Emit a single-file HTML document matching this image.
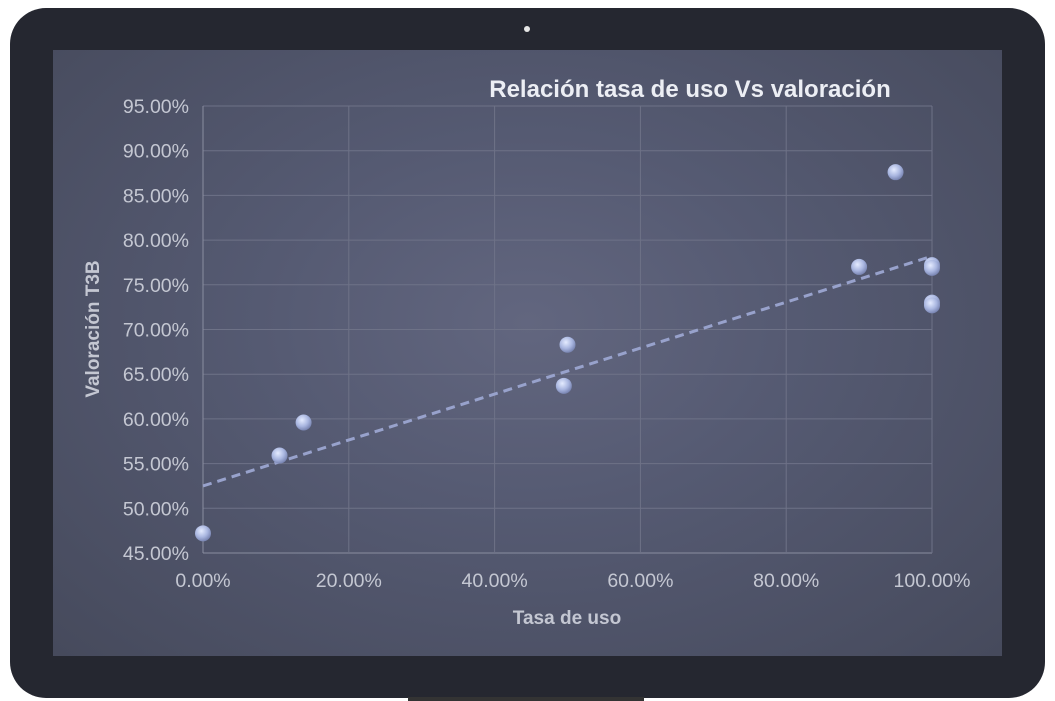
<!DOCTYPE html>
<html><head><meta charset="utf-8"><style>
html,body{margin:0;padding:0;background:#fff;width:1055px;height:701px;overflow:hidden}
#frame{position:absolute;left:10px;top:8px;width:1035px;height:690px;background:#252730;border-radius:36px}
#screen{position:absolute;left:53px;top:50px;width:949px;height:606px;background:radial-gradient(ellipse at 50% 45%,#62667f 0%,#555a72 40%,#464a5c 100%)}
#cam{position:absolute;left:524px;top:26px;width:6px;height:6px;border-radius:50%;background:#e6e6e6}
#bar{position:absolute;left:408px;top:697px;width:236px;height:4px;background:#333}
svg text{font-family:"Liberation Sans",sans-serif}
</style></head><body>
<div id="frame"></div>
<div id="cam"></div>
<div id="screen"></div>
<div id="bar"></div>
<svg id="chart" width="1055" height="701" style="position:absolute;left:0;top:0">
<defs><radialGradient id="ball" cx="40%" cy="35%" r="65%"><stop offset="0" stop-color="#e4ebff"/><stop offset="0.6" stop-color="#a9b6e0"/><stop offset="1" stop-color="#7a86b3"/></radialGradient></defs>
<g id="grid"></g><g id="trend"></g><g id="pts"></g><g id="labels"></g>
<text x="690" y="97" text-anchor="middle" font-size="24" font-weight="bold" fill="#eceef4">Relación tasa de uso Vs valoración</text>
<text x="567" y="624" text-anchor="middle" font-size="19" font-weight="bold" fill="#c4c7d2">Tasa de uso</text>
<text transform="translate(99,329) rotate(-90)" text-anchor="middle" font-size="19" font-weight="bold" fill="#c4c7d2">Valoración T3B</text>
</svg>
<script>
const xs=[0,10.5,13.8,49.5,50,90,95,100,100,100,100];
const ys=[47.2,55.9,59.6,63.7,68.3,77.0,87.6,77.2,76.9,73.0,72.7];
const xTicks=[0,20,40,60,80,100];
const yTicks=[45,50,55,60,65,70,75,80,85,90,95];
const trendStart=52.5, trendEnd=78.2;
const X=v=>203+(v/100)*729;
const Y=v=>553-(v-45)/50*447;
const NS="http://www.w3.org/2000/svg";
function mk(t,a,p){const e=document.createElementNS(NS,t);for(const k in a)e.setAttribute(k,a[k]);p.appendChild(e);return e;}
const g=document.getElementById('grid'),lb=document.getElementById('labels');
yTicks.forEach(v=>{
 const l=mk('line',{x1:203,x2:932,y1:Y(v),y2:Y(v),stroke:v===45?'#8a8ea0':'#6e7287','stroke-width':1},g);
 
 
 const t=mk('text',{x:189,y:Y(v)+7,'text-anchor':'end','font-size':19.5,fill:'#c4c7d2'},lb);
 t.textContent=v.toFixed(2)+'%';
 
 
});
xTicks.forEach(v=>{
 const l=mk('line',{x1:X(v),x2:X(v),y1:Y(95),y2:Y(45),stroke:v===0?'#8a8ea0':'#6e7287','stroke-width':1},g);
 
 
 const t=mk('text',{x:X(v),y:587,'text-anchor':'middle','font-size':19.5,fill:'#c4c7d2'},lb);
 t.textContent=v.toFixed(2)+'%';
 
 
});
const tr=mk('line',{x1:X(0),y1:Y(trendStart),x2:X(100),y2:Y(trendEnd),stroke:'#98a2cc','stroke-width':3,'stroke-dasharray':'9 6'},document.getElementById('trend'));


const pg=document.getElementById('pts');
xs.forEach((x,i)=>{
 const c=mk('circle',{cx:X(x),cy:Y(ys[i]),r:8,fill:'url(#ball)'},pg);
 
 
});
</script>
</body></html>
